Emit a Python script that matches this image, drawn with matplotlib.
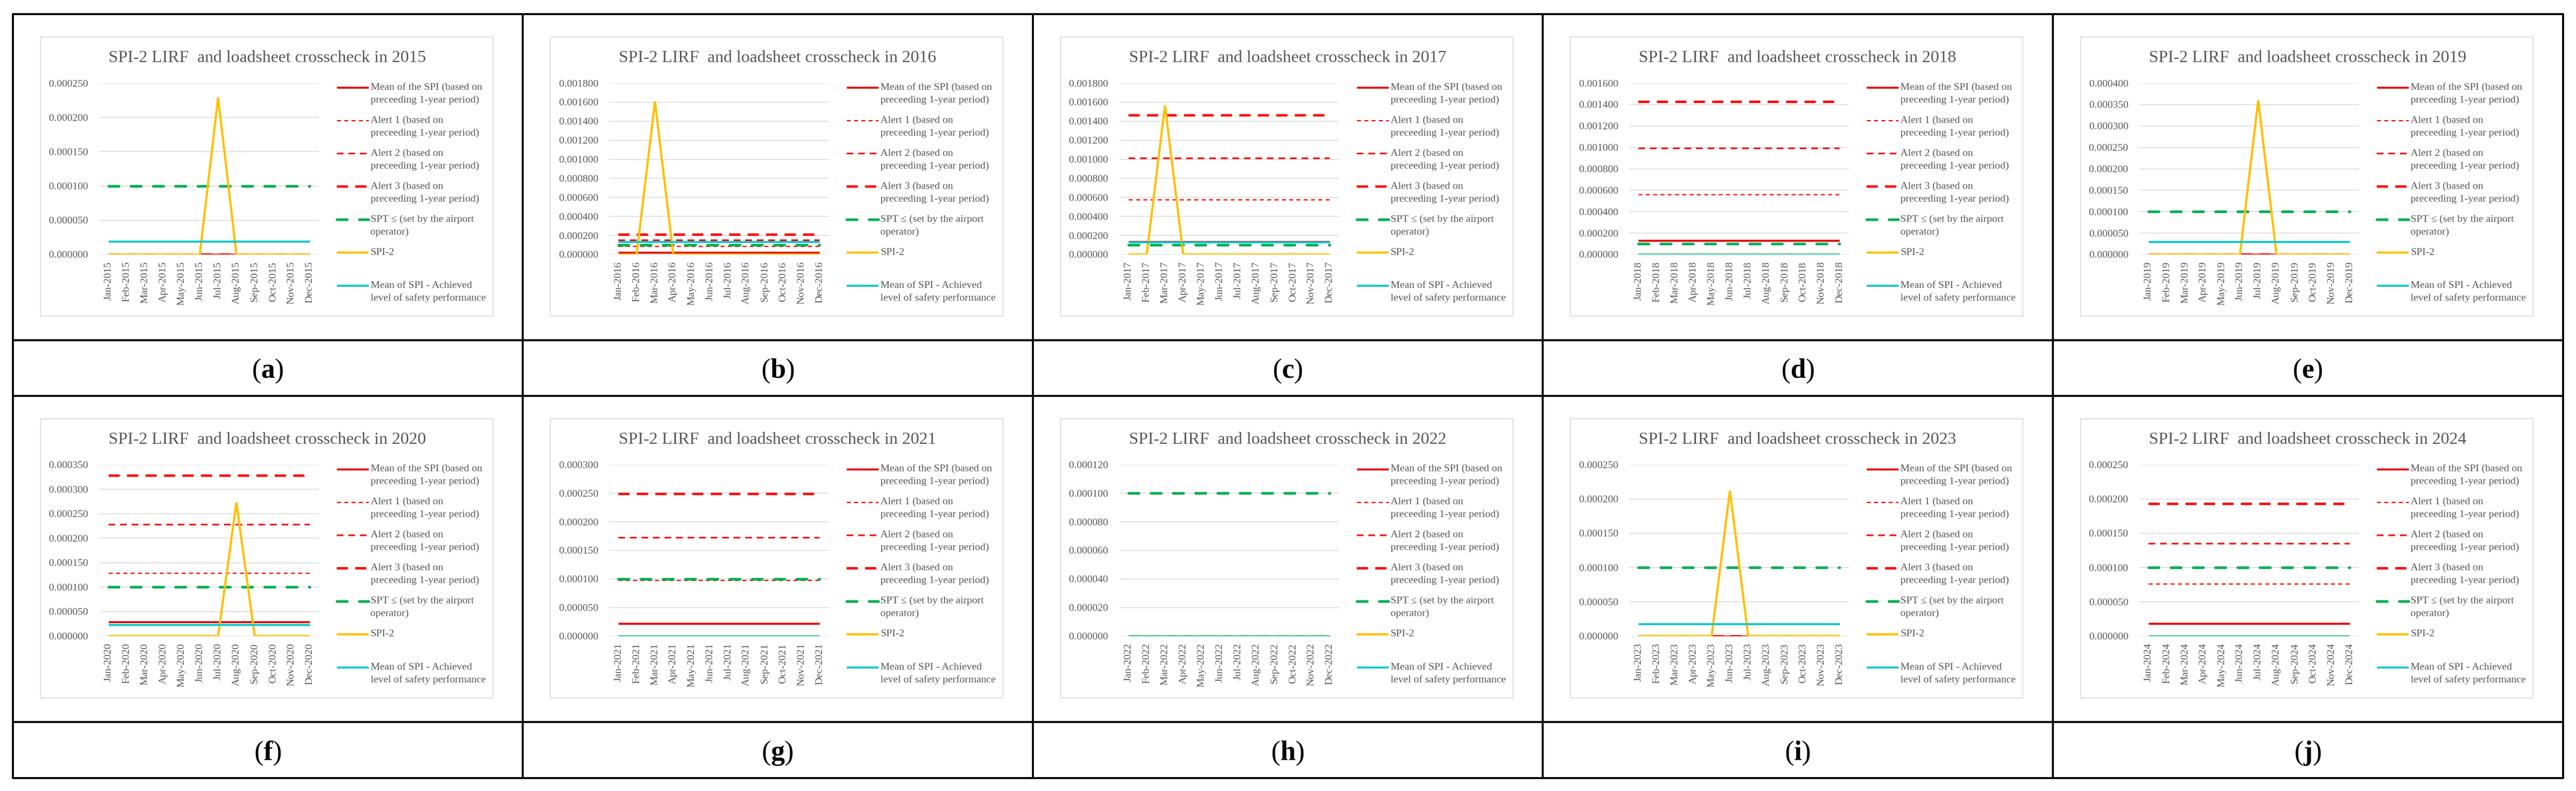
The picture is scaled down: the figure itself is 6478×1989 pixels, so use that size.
import matplotlib
matplotlib.use('Agg')
import matplotlib.pyplot as plt
from matplotlib.patches import Rectangle

plt.rcParams['font.family'] = ['Liberation Serif', 'DejaVu Serif']
plt.rcParams['mathtext.fontset'] = 'custom'
plt.rcParams['mathtext.rm'] = 'Liberation Serif'
plt.rcParams['mathtext.bf'] = 'Liberation Serif:bold'

W, H = 6478, 1989

# data
months = ['Jan', 'Feb', 'Mar', 'Apr', 'May', 'Jun', 'Jul', 'Aug', 'Sep', 'Oct', 'Nov', 'Dec']
years = [2015, 2016, 2017, 2018, 2019, 2020, 2021, 2022, 2023, 2024]
panel_letters = ['a', 'b', 'c', 'd', 'e', 'f', 'g', 'h', 'i', 'j']
y_max = [0.00025, 0.0018, 0.0018, 0.0016, 0.0004, 0.00035, 0.0003, 0.00012, 0.00025, 0.00025]
y_step = [0.00005, 0.0002, 0.0002, 0.0002, 0.00005, 0.00005, 0.00005, 0.00002, 0.00005, 0.00005]

spi2_values = [
    [0, 0, 0, 0, 0, 0, 0.000229, 0, 0, 0, 0, 0],
    [0, 0, 0.001606, 0, 0, 0, 0, 0, 0, 0, 0, 0],
    [0, 0, 0.001566, 0, 0, 0, 0, 0, 0, 0, 0, 0],
    [0, 0, 0, 0, 0, 0, 0, 0, 0, 0, 0, 0],
    [0, 0, 0, 0, 0, 0, 0.000360, 0, 0, 0, 0, 0],
    [0, 0, 0, 0, 0, 0, 0, 0.000273, 0, 0, 0, 0],
    [0, 0, 0, 0, 0, 0, 0, 0, 0, 0, 0, 0],
    [0, 0, 0, 0, 0, 0, 0, 0, 0, 0, 0, 0],
    [0, 0, 0, 0, 0, 0.000212, 0, 0, 0, 0, 0, 0],
    [0, 0, 0, 0, 0, 0, 0, 0, 0, 0, 0, 0],
]
# constant monthly levels of the reference lines, one per year
mean_prev = [0, 0.000019, 0.000132, 0.000131, 0, 0.000029, 0.000022, 0, 0, 0.000018]
alert1 = [0, 0.0000865, 0.000575, 0.000562, 0, 0.000129, 0.0000975, 0, 0, 0.000076]
alert2 = [0, 0.000152, 0.00101, 0.000991, 0, 0.000228, 0.000172, 0, 0, 0.000135]
alert3 = [0, 0.000210, 0.00146, 0.001424, 0, 0.000328, 0.000249, 0, 0, 0.000193]
spt = [0.0001, 0.0001, 0.0001, 0.0001, 0.0001, 0.0001, 0.0001, 0.0001, 0.0001, 0.0001]
achieved = [0.000019, 0.000134, 0.000131, 0, 0.000030, 0.0000228, 0, 0, 0.0000177, 0]

legend_labels = [
    ['Mean of the SPI (based on', 'preceeding 1-year period)'],
    ['Alert 1 (based on', 'preceeding 1-year period)'],
    ['Alert 2 (based on', 'preceeding 1-year period)'],
    ['Alert 3 (based on', 'preceeding 1-year period)'],
    ['SPT \u2264 (set by the airport', 'operator)'],
    ['SPI-2'],
    ['Mean of SPI - Achieved', 'level of safety performance'],
]

styles = [
    dict(color='#E60000', lw=3.6, solid_capstyle='butt'),
    dict(color='#FF0000', lw=2.2, dashes=(3.3, 2.7), dash_capstyle='butt'),
    dict(color='#FF0000', lw=2.9, dashes=(4.2, 3.0), dash_capstyle='butt'),
    dict(color='#FF0000', lw=4.4, dashes=(4.6, 3.0), dash_capstyle='butt'),
    dict(color='#00B050', lw=4.8, dashes=(3.9, 4.5), dash_capstyle='round'),
    dict(color='#FFC000', lw=4.0, solid_capstyle='butt', solid_joinstyle='miter'),
    dict(color='#00C8CC', lw=3.6, solid_capstyle='butt'),
]

grey = '#595959'
grid_grey = '#D9D9D9'

# table geometry (pixels)
col_x = [31.5 + i * 1282.6 for i in range(6)]
row_tops = [35, 994.5]
row_mid = [854.5, 1815]
row_bottoms = [994.5, 1955.5]

fig = plt.figure(figsize=(W / 100, H / 100), dpi=100)
fig.patch.set_facecolor('white')

base = fig.add_axes([0, 0, 1, 1])
base.set_xlim(0, W)
base.set_ylim(H, 0)
base.axis('off')
base.set_zorder(0)

x_pos = list(range(12))

for i, year in enumerate(years):
    r, c = divmod(i, 5)
    x0 = col_x[c]
    y0 = row_tops[r]

    # chart frame
    base.add_patch(Rectangle((x0 + 70, y0 + 58), 1138, 702, fill=False,
                             edgecolor=grid_grey, lw=1.6))

    # title
    base.text(x0 + 641, y0 + 111, f'SPI-2 LIRF  and loadsheet crosscheck in {year}',
              ha='center', va='center', fontsize=31, color=grey)

    # plot area
    left, right = x0 + 218, x0 + 770
    top, bottom = y0 + 174, y0 + 605
    ax = fig.add_axes([left / W, 1 - bottom / H, (right - left) / W, (bottom - top) / H])
    ax.set_zorder(1)
    ax.patch.set_alpha(0)

    series = [
        [mean_prev[i]] * 12,
        [alert1[i]] * 12,
        [alert2[i]] * 12,
        [alert3[i]] * 12,
        [spt[i]] * 12,
        spi2_values[i],
        [achieved[i]] * 12,
    ]
    for k, vals in enumerate(series):
        ax.plot(x_pos, vals, zorder=3 + k, **styles[k])

    ax.set_xlim(-0.5, 11.5)
    ax.set_ylim(0, y_max[i])
    n_ticks = int(round(y_max[i] / y_step[i]))
    ticks = [y_step[i] * t for t in range(n_ticks + 1)]
    ax.set_yticks(ticks)
    ax.set_yticklabels([f'{t:.6f}' for t in ticks])
    ax.set_xticks(x_pos)
    ax.set_xticklabels([f'{m}-{year}' for m in months], rotation=90)
    ax.tick_params(axis='both', length=0, labelsize=19, labelcolor=grey)
    ax.tick_params(axis='y', pad=20)
    ax.tick_params(axis='x', pad=13)
    for s in ax.spines.values():
        s.set_visible(False)
    ax.grid(axis='y', color=grid_grey, lw=1.4, zorder=0)
    ax.set_axisbelow(True)

    # legend
    ly = y0 + 185
    for k, lines in enumerate(legend_labels):
        yy = ly + k * 83
        base.plot([x0 + 815, x0 + 895], [yy, yy], **styles[k])
        for j, txt in enumerate(lines):
            base.text(x0 + 900, yy + j * 32, txt, ha='left', va='center',
                      fontsize=19, color=grey)

    # panel label
    lx = (col_x[c] + col_x[c + 1]) / 2
    lyc = (row_mid[r] + row_bottoms[r]) / 2 + 9
    base.text(lx, lyc, '($\\mathbf{' + panel_letters[i] + '}$)', ha='center', va='center',
              fontsize=50, color='black')

# table borders
for x in col_x:
    base.plot([x, x], [row_tops[0], row_bottoms[1]], color='black', lw=3.6,
              solid_capstyle='projecting')
for y in row_tops + row_mid + [row_bottoms[1]]:
    base.plot([col_x[0], col_x[-1]], [y, y], color='black', lw=3.6,
              solid_capstyle='projecting')

fig.savefig('out.png', dpi=100, facecolor='white')
